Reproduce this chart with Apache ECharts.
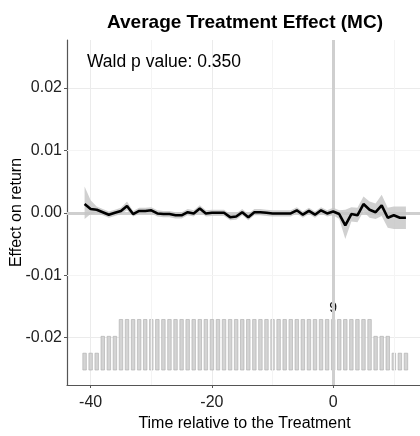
<!doctype html>
<html>
<head>
<meta charset="utf-8">
<title>Average Treatment Effect (MC)</title>
<script src="https://cdn.jsdelivr.net/npm/echarts@6/dist/echarts.min.js"></script>
<style>
  html, body { margin: 0; padding: 0; background: #fff; }
  #chart { width: 420px; height: 436px; }
</style>
</head>
<body>
<div id="chart"></div>
<script>
// time relative to treatment
var periods = [];
for (var t = -41; t <= 12; t++) periods.push(t);

// estimated ATT per period
var effect = [
  0.0014, 0.0006, 0.0005, 0.0001, -0.0003, 0.0000, 0.0003, 0.0011, -0.0002, 0.0003,
  0.0003, 0.0004, -0.0001, -0.0002, -0.0002, -0.0004, -0.0004, 0.0001, -0.0001, 0.0007,
  -0.0001, 0.0000, 0.0000, 0.0000, -0.0007, -0.0006, 0.0001, -0.0007, 0.0001, 0.0001,
  0.0000, -0.0001, -0.0001, -0.0001, -0.0001, 0.0004, -0.0003, 0.0003, -0.0003, 0.0004,
  -0.0001, 0.0002, -0.0002, -0.0020, -0.0002, -0.0004, 0.0014, 0.0005, 0.0001, 0.0012,
  -0.0008, -0.0004, -0.0008, -0.0008
];
// confidence band
var ciLower = [
  -0.0010, -0.0002, 0.0000, -0.0004, -0.0008, -0.0005, -0.0002, 0.0004, -0.0006, -0.0002,
  -0.0002, -0.0001, -0.0006, -0.0007, -0.0007, -0.0009, -0.0009, -0.0004, -0.0006, 0.0002,
  -0.0006, -0.0005, -0.0005, -0.0005, -0.0012, -0.0011, -0.0004, -0.0012, -0.0004, -0.0004,
  -0.0005, -0.0006, -0.0006, -0.0006, -0.0006, -0.0001, -0.0008, -0.0002, -0.0008, -0.0001,
  -0.0006, -0.0004, -0.0010, -0.0042, -0.0014, -0.0015, 0.0002, -0.0008, -0.0010, -0.0005,
  -0.0024, -0.0026, -0.0026, -0.0026
];
var ciUpper = [
  0.0042, 0.0020, 0.0010, 0.0006, 0.0002, 0.0005, 0.0008, 0.0018, 0.0003, 0.0008,
  0.0008, 0.0009, 0.0004, 0.0003, 0.0003, 0.0001, 0.0001, 0.0006, 0.0004, 0.0012,
  0.0004, 0.0005, 0.0005, 0.0005, -0.0002, -0.0001, 0.0006, -0.0002, 0.0006, 0.0006,
  0.0005, 0.0004, 0.0004, 0.0004, 0.0004, 0.0009, 0.0002, 0.0008, 0.0002, 0.0009,
  0.0004, 0.0008, 0.0004, 0.0005, 0.0009, 0.0008, 0.0026, 0.0018, 0.0015, 0.0029,
  0.0008, 0.0010, 0.0010, 0.0010
];
// number of treated units per period
var counts = [
  3, 3, 3, 6, 6, 6, 9, 9, 9, 9,
  9, 9, 9, 9, 9, 9, 9, 9, 9, 9,
  9, 9, 9, 9, 9, 9, 9, 9, 9, 9,
  9, 9, 9, 9, 9, 9, 9, 9, 9, 9,
  9, 9, 9, 9, 9, 9, 9, 9, 6, 6,
  6, 3, 3, 3
];

var xTicks = [-40, -20, 0];
var xMinor = [-30, -10, 10];
var yTicks = [-0.02, -0.01, 0, 0.01, 0.02];
var yMinor = [-0.025, -0.015, -0.005, 0.005, 0.015, 0.025];

var barBase = -0.0252;
var barUnit = 0.0009;

var lineData = periods.map(function (t, i) { return [t, effect[i]]; });
var bandData = periods.map(function (t, i) { return [t, ciLower[i], ciUpper[i]]; });
var barData = periods.map(function (t, i) { return [t, counts[i]]; });

var minorLines = xMinor.map(function (v) { return { xAxis: v }; })
  .concat(yMinor.map(function (v) { return { yAxis: v }; }));

var FONT = 'Liberation Sans, Arial, sans-serif';

var myChart = echarts.init(document.getElementById('chart'));
myChart.setOption({
  animation: false,
  textStyle: { fontFamily: FONT },
  title: [{
    text: 'Average Treatment Effect (MC)',
    left: 240, top: 8, textAlign: 'center',
    textStyle: { fontSize: 19, fontWeight: 'bold', color: '#000' }
  }, {
    text: 'Wald p value: 0.350',
    left: 82, top: 48,
    textStyle: { fontSize: 17.5, fontWeight: 'normal', color: '#000' }
  }],
  grid: { left: 67, top: 40, width: 355, height: 345, outerBoundsMode: 'none', containLabel: false },
  xAxis: {
    type: 'value', min: -43.9, max: 14.65,
    name: 'Time relative to the Treatment', nameLocation: 'middle', nameGap: 31,
    nameTextStyle: { fontSize: 16, color: '#000' },
    axisLine: { onZero: false, lineStyle: { color: '#555', width: 1.2 } },
    axisTick: { length: 3, customValues: xTicks, lineStyle: { color: '#555' } },
    axisLabel: { customValues: xTicks, fontSize: 16, color: '#222', margin: 10 },
    splitLine: { lineStyle: { color: '#ebebeb', width: 1 } }
  },
  yAxis: {
    type: 'value', min: -0.0276, max: 0.0277,
    name: 'Effect on return', nameLocation: 'middle', nameGap: 42, nameMoveOverlap: false,
    nameTextStyle: { fontSize: 16, color: '#000' },
    axisLine: { show: true, onZero: false, lineStyle: { color: '#555', width: 1.2 } },
    axisTick: { show: true, length: 3, customValues: yTicks, lineStyle: { color: '#555' } },
    axisLabel: {
      customValues: yTicks, fontSize: 16, color: '#222', margin: 5,
      formatter: function (v) { return v.toFixed(2); }
    },
    splitLine: { lineStyle: { color: '#ebebeb', width: 1 } }
  },
  series: [{
    name: 'minor', type: 'line', data: [], silent: true,
    markLine: {
      silent: true, symbol: 'none', label: { show: false },
      lineStyle: { color: '#f4f4f4', width: 1, type: 'solid' },
      data: minorLines
    }
  }, {
    name: 'ref', type: 'line', data: [], silent: true, z: 2,
    markLine: {
      silent: true, symbol: 'none', label: { show: false },
      lineStyle: { color: '#cfcfcf', width: 3, type: 'solid' },
      data: [{ yAxis: 0 }, { xAxis: 0 }]
    }
  }, {
    name: 'counts', type: 'custom', data: barData, z: 4, silent: true,
    renderItem: function (params, api) {
      var x = api.value(0), n = api.value(1);
      var p0 = api.coord([x - 0.29, barBase]);
      var p1 = api.coord([x + 0.29, barBase + n * barUnit]);
      var children = [{
        type: 'rect',
        shape: { x: p0[0], y: p1[1], width: p1[0] - p0[0], height: p0[1] - p1[1] },
        style: { fill: '#d4d4d4', stroke: '#ababab', lineWidth: 0.6 }
      }];
      if (x === 0) {
        children.push({
          type: 'text', z2: 20,
          style: {
            text: String(n), x: (p0[0] + p1[0]) / 2, y: p1[1] - 4,
            align: 'center', verticalAlign: 'bottom',
            fontSize: 14, fill: '#111', fontFamily: FONT
          }
        });
      }
      return { type: 'group', children: children };
    }
  }, {
    name: 'band', type: 'custom', data: bandData, z: 5, silent: true,
    renderItem: function (params, api) {
      if (params.dataIndex !== 0) return null;
      var upper = bandData.map(function (d) { return api.coord([d[0], d[2]]); });
      var lower = bandData.map(function (d) { return api.coord([d[0], d[1]]); }).reverse();
      return {
        type: 'polygon',
        shape: { points: upper.concat(lower) },
        style: { fill: '#c4c4c4', opacity: 0.8 }
      };
    }
  }, {
    name: 'ATT', type: 'line', data: lineData, symbol: 'none', z: 6,
    lineStyle: { color: '#000', width: 2.6 }
  }]
});
</script>
</body>
</html>
